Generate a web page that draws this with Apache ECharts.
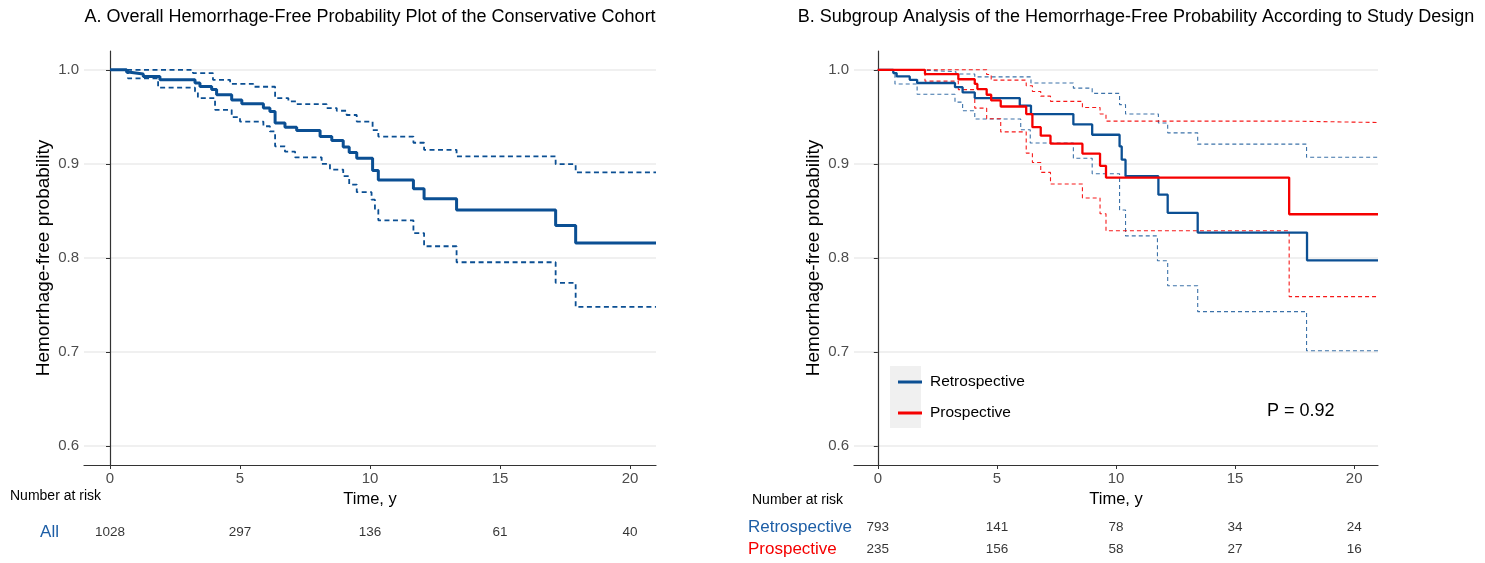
<!DOCTYPE html>
<html>
<head>
<meta charset="utf-8">
<script src="https://cdn.jsdelivr.net/npm/echarts@6/dist/echarts.min.js"></script>
<style>html,body{margin:0;padding:0;background:#fff}#c{width:1485px;height:563px}</style>
</head>
<body>
<div id="c"></div>
<script>
// ---------- data (time in years, hemorrhage-free probability) ----------
const yTicks = [0.6, 0.7, 0.8, 0.9, 1.0];
const xTicks = [0, 5, 10, 15, 20];

// Panel A: overall cohort
const allSurv = [[0,1.0],[0.64,0.9975],[0.77,0.9955],[1.28,0.993],[1.92,0.9894],[3.27,0.9859],[3.46,0.9823],[3.91,0.979],[4.10,0.9735],[4.68,0.968],[5.07,0.9639],[5.90,0.9593],[6.15,0.9558],[6.35,0.9434],[6.73,0.939],[7.18,0.9355],[8.08,0.929],[8.53,0.9248],[8.97,0.918],[9.20,0.912],[9.49,0.906],[10.10,0.893],[10.32,0.883],[11.67,0.8735],[12.08,0.863],[13.33,0.851],[17.14,0.8345],[17.91,0.816],[21,0.816]];
const allUpper = [[0,1.0],[3.19,0.9965],[3.96,0.9894],[4.62,0.985],[5.51,0.982],[6.35,0.970],[6.86,0.9664],[7.18,0.9636],[8.33,0.9593],[8.72,0.9565],[9.10,0.952],[9.49,0.945],[10.10,0.936],[10.32,0.929],[11.67,0.9225],[12.08,0.915],[13.33,0.908],[17.14,0.8997],[17.91,0.891],[21,0.891]];
const allLower = [[0,1.0],[0.69,0.991],[1.85,0.981],[3.27,0.977],[3.38,0.970],[4.04,0.9575],[4.68,0.9498],[5.00,0.945],[5.90,0.940],[6.15,0.9345],[6.35,0.9187],[6.73,0.913],[7.12,0.907],[8.14,0.900],[8.46,0.894],[8.97,0.887],[9.20,0.878],[9.49,0.870],[10.06,0.862],[10.19,0.8515],[10.32,0.840],[11.67,0.8265],[12.08,0.8125],[13.33,0.7955],[17.14,0.7736],[17.91,0.748],[21,0.748]];

// Panel B: by study design
const retroSurv = [[0,1.0],[0.65,0.9965],[0.79,0.993],[1.34,0.9894],[1.65,0.986],[3.24,0.9816],[3.56,0.976],[4.07,0.970],[5.96,0.962],[6.43,0.953],[8.21,0.942],[9.00,0.931],[10.15,0.9186],[10.24,0.9045],[10.40,0.887],[11.78,0.8673],[12.17,0.848],[13.43,0.827],[18.02,0.7975],[21,0.7975]];
const retroUpper = [[0,1.0],[1.60,0.998],[3.28,0.9955],[4.07,0.9925],[6.43,0.986],[8.21,0.9805],[9.00,0.975],[10.15,0.963],[10.40,0.953],[11.78,0.9435],[12.17,0.933],[13.43,0.921],[18.00,0.907],[21,0.907]];
const retroLower = [[0,1.0],[0.72,0.985],[1.65,0.974],[3.24,0.9657],[3.56,0.9565],[4.07,0.9477],[6.00,0.9363],[6.40,0.9222],[8.21,0.906],[9.00,0.8895],[10.15,0.851],[10.40,0.8235],[11.74,0.797],[12.17,0.7705],[13.43,0.743],[18.00,0.7015],[21,0.7015]];
const proSurv = [[0,1.0],[1.98,0.9955],[3.38,0.990],[4.07,0.985],[4.18,0.9795],[4.57,0.9735],[4.76,0.9675],[5.16,0.961],[6.23,0.953],[6.49,0.939],[6.84,0.930],[7.25,0.9215],[8.59,0.911],[9.33,0.898],[9.58,0.8855],[17.27,0.8465],[21,0.8465]];
const proUpper = [[0,1.0],[4.57,0.995],[4.76,0.989],[6.23,0.983],[6.49,0.977],[6.84,0.972],[7.25,0.9665],[8.59,0.960],[9.33,0.953],[9.58,0.9455],[17.27,0.944],[21,0.944]];
const proLower = [[0,1.0],[1.98,0.988],[3.38,0.979],[4.07,0.9593],[4.57,0.948],[5.16,0.934],[6.23,0.9115],[6.49,0.9015],[6.84,0.891],[7.25,0.8787],[8.59,0.8638],[9.33,0.847],[9.58,0.829],[17.27,0.759],[21,0.759]];

// Number at risk
const riskTimes = [0, 5, 10, 15, 20];
const riskAll = [1028, 297, 136, 61, 40];
const riskRetro = [793, 141, 78, 34, 24];
const riskPro = [235, 156, 58, 27, 16];
const groupNames = ['Retrospective', 'Prospective'];
// ------------------------------------------------------------------------

const BLUE = '#0b4f93';
const RED = '#f50000';
const LBLUE = '#1d5ea6';
const FONT = '"Liberation Sans", Arial, sans-serif';

function xAx(gi, show) {
  return {
    type: 'value', gridIndex: gi, min: -1, max: 21,
    show: show,
    axisLine: { show: true, lineStyle: { color: '#333', width: 1.2 } },
    axisTick: { show: true, length: 4, lineStyle: { color: '#333' }, customValues: xTicks },
    axisLabel: { show: true, color: '#4d4d4d', fontSize: 15, fontFamily: FONT, margin: 6, customValues: xTicks },
    splitLine: { show: false },
    name: show ? 'Time, y' : '', nameLocation: 'middle', nameGap: 22,
    nameTextStyle: { color: '#000', fontSize: 16.5, fontFamily: FONT }
  };
}
function yAx(gi) {
  return {
    type: 'value', gridIndex: gi, min: 0.58, max: 1.02,
    axisLine: { show: true, lineStyle: { color: '#333', width: 1.2 } },
    axisTick: { show: true, length: 4, lineStyle: { color: '#333' }, customValues: yTicks },
    axisLabel: { color: '#4d4d4d', fontSize: 15, fontFamily: FONT, margin: 5, customValues: yTicks,
                 formatter: v => v.toFixed(1) },
    splitLine: { show: true, lineStyle: { color: '#ebebeb', width: 1.5 } },
    name: 'Hemorrhage-free probability', nameLocation: 'middle', nameGap: 31, nameRotate: 90,
    nameTextStyle: { color: '#000', fontSize: 19, fontFamily: FONT }
  };
}
function stepLine(name, data, xi, color, width, dashed, opacity) {
  return {
    name: name, type: 'line', step: 'end', xAxisIndex: xi, yAxisIndex: xi,
    data: data, showSymbol: false, symbol: 'none', clip: true, silent: true,
    lineStyle: { color: color, width: width, type: dashed ? dashed : 'solid', opacity: opacity || 1 },
    itemStyle: { color: color }, z: dashed ? 2 : 3
  };
}
function riskSeries(xi, cat, values) {
  return {
    type: 'scatter', xAxisIndex: xi, yAxisIndex: xi, symbolSize: 1, silent: true,
    itemStyle: { color: 'rgba(0,0,0,0)' },
    data: riskTimes.map((t, i) => [t, cat, values[i]]),
    label: { show: true, position: 'inside', formatter: p => String(p.value[2]),
             color: '#000', fontSize: 13.5, fontFamily: FONT }
  };
}

const chart = echarts.init(document.getElementById('c'), null, { renderer: 'canvas' });
chart.setOption({
  animation: false,
  textStyle: { fontFamily: FONT },
  grid: [
    { left: 84, top: 51, width: 572, height: 414 },
    { left: 854, top: 51, width: 524, height: 414 },
    { left: 84, top: 520, width: 572, height: 24 },
    { left: 854, top: 516, width: 524, height: 44 }
  ],
  xAxis: [
    xAx(0, true), xAx(1, true),
    { type: 'value', gridIndex: 2, min: -1, max: 21, show: false },
    { type: 'value', gridIndex: 3, min: -1, max: 21, show: false }
  ],
  yAxis: [
    yAx(0), yAx(1),
    { type: 'category', gridIndex: 2, data: ['All'],
      axisLine: { show: false }, axisTick: { show: false }, splitLine: { show: false },
      axisLabel: { color: LBLUE, fontSize: 17, fontFamily: FONT, margin: 25, interval: 0 } },
    { type: 'category', gridIndex: 3, data: groupNames, inverse: true,
      axisLine: { show: false }, axisTick: { show: false }, splitLine: { show: false },
      axisLabel: { fontSize: 17, fontFamily: FONT, margin: 106, align: 'left', interval: 0, hideOverlap: false,
                   color: (v) => v === 'Prospective' ? RED : LBLUE } }
  ],
  legend: {
    data: groupNames, orient: 'vertical', left: 893, top: 369,
    itemWidth: 24, itemHeight: 3, itemGap: 15, icon: 'rect',
    textStyle: { color: '#000', fontSize: 15.5, fontFamily: FONT, lineHeight: 16, padding: [0, 0, 0, 3] },
    selectedMode: false
  },
  graphic: [
    { type: 'rect', shape: { x: 890, y: 366, width: 31, height: 62 }, style: { fill: '#f0f0f0' }, z: -10 },
    { type: 'text', x: 370, y: 17, style: { text: 'A. Overall Hemorrhage-Free Probability Plot of the Conservative Cohort',
        fill: '#000', fontSize: 18, fontFamily: FONT, textAlign: 'center', textVerticalAlign: 'middle' } },
    { type: 'text', x: 1136, y: 17, style: { text: 'B. Subgroup Analysis of the Hemorrhage-Free Probability According to Study Design',
        fill: '#000', fontSize: 18, fontFamily: FONT, textAlign: 'center', textVerticalAlign: 'middle' } },
    { type: 'text', x: 10, y: 496, style: { text: 'Number at risk', fill: '#000', fontSize: 14, fontFamily: FONT, textVerticalAlign: 'middle' } },
    { type: 'text', x: 752, y: 500, style: { text: 'Number at risk', fill: '#000', fontSize: 14, fontFamily: FONT, textVerticalAlign: 'middle' } },
    { type: 'text', x: 1267, y: 411, style: { text: 'P = 0.92', fill: '#000', fontSize: 18, fontFamily: FONT, textVerticalAlign: 'middle' } }
  ],
  series: [
    stepLine('All upper', allUpper, 0, BLUE, 1.8, [5, 3.5]),
    stepLine('All lower', allLower, 0, BLUE, 1.8, [5, 3.5]),
    stepLine('All', allSurv, 0, BLUE, 3),
    stepLine('Retrospective upper', retroUpper, 1, BLUE, 1.1, [4, 3], 0.8),
    stepLine('Retrospective lower', retroLower, 1, BLUE, 1.1, [4, 3], 0.8),
    stepLine('Prospective upper', proUpper, 1, RED, 1.1, [4, 3], 0.9),
    stepLine('Prospective lower', proLower, 1, RED, 1.1, [4, 3], 0.9),
    stepLine('Retrospective', retroSurv, 1, BLUE, 2.3),
    stepLine('Prospective', proSurv, 1, RED, 2.3),
    riskSeries(2, 'All', riskAll),
    riskSeries(3, 'Retrospective', riskRetro),
    riskSeries(3, 'Prospective', riskPro)
  ]
});
</script>
</body>
</html>
